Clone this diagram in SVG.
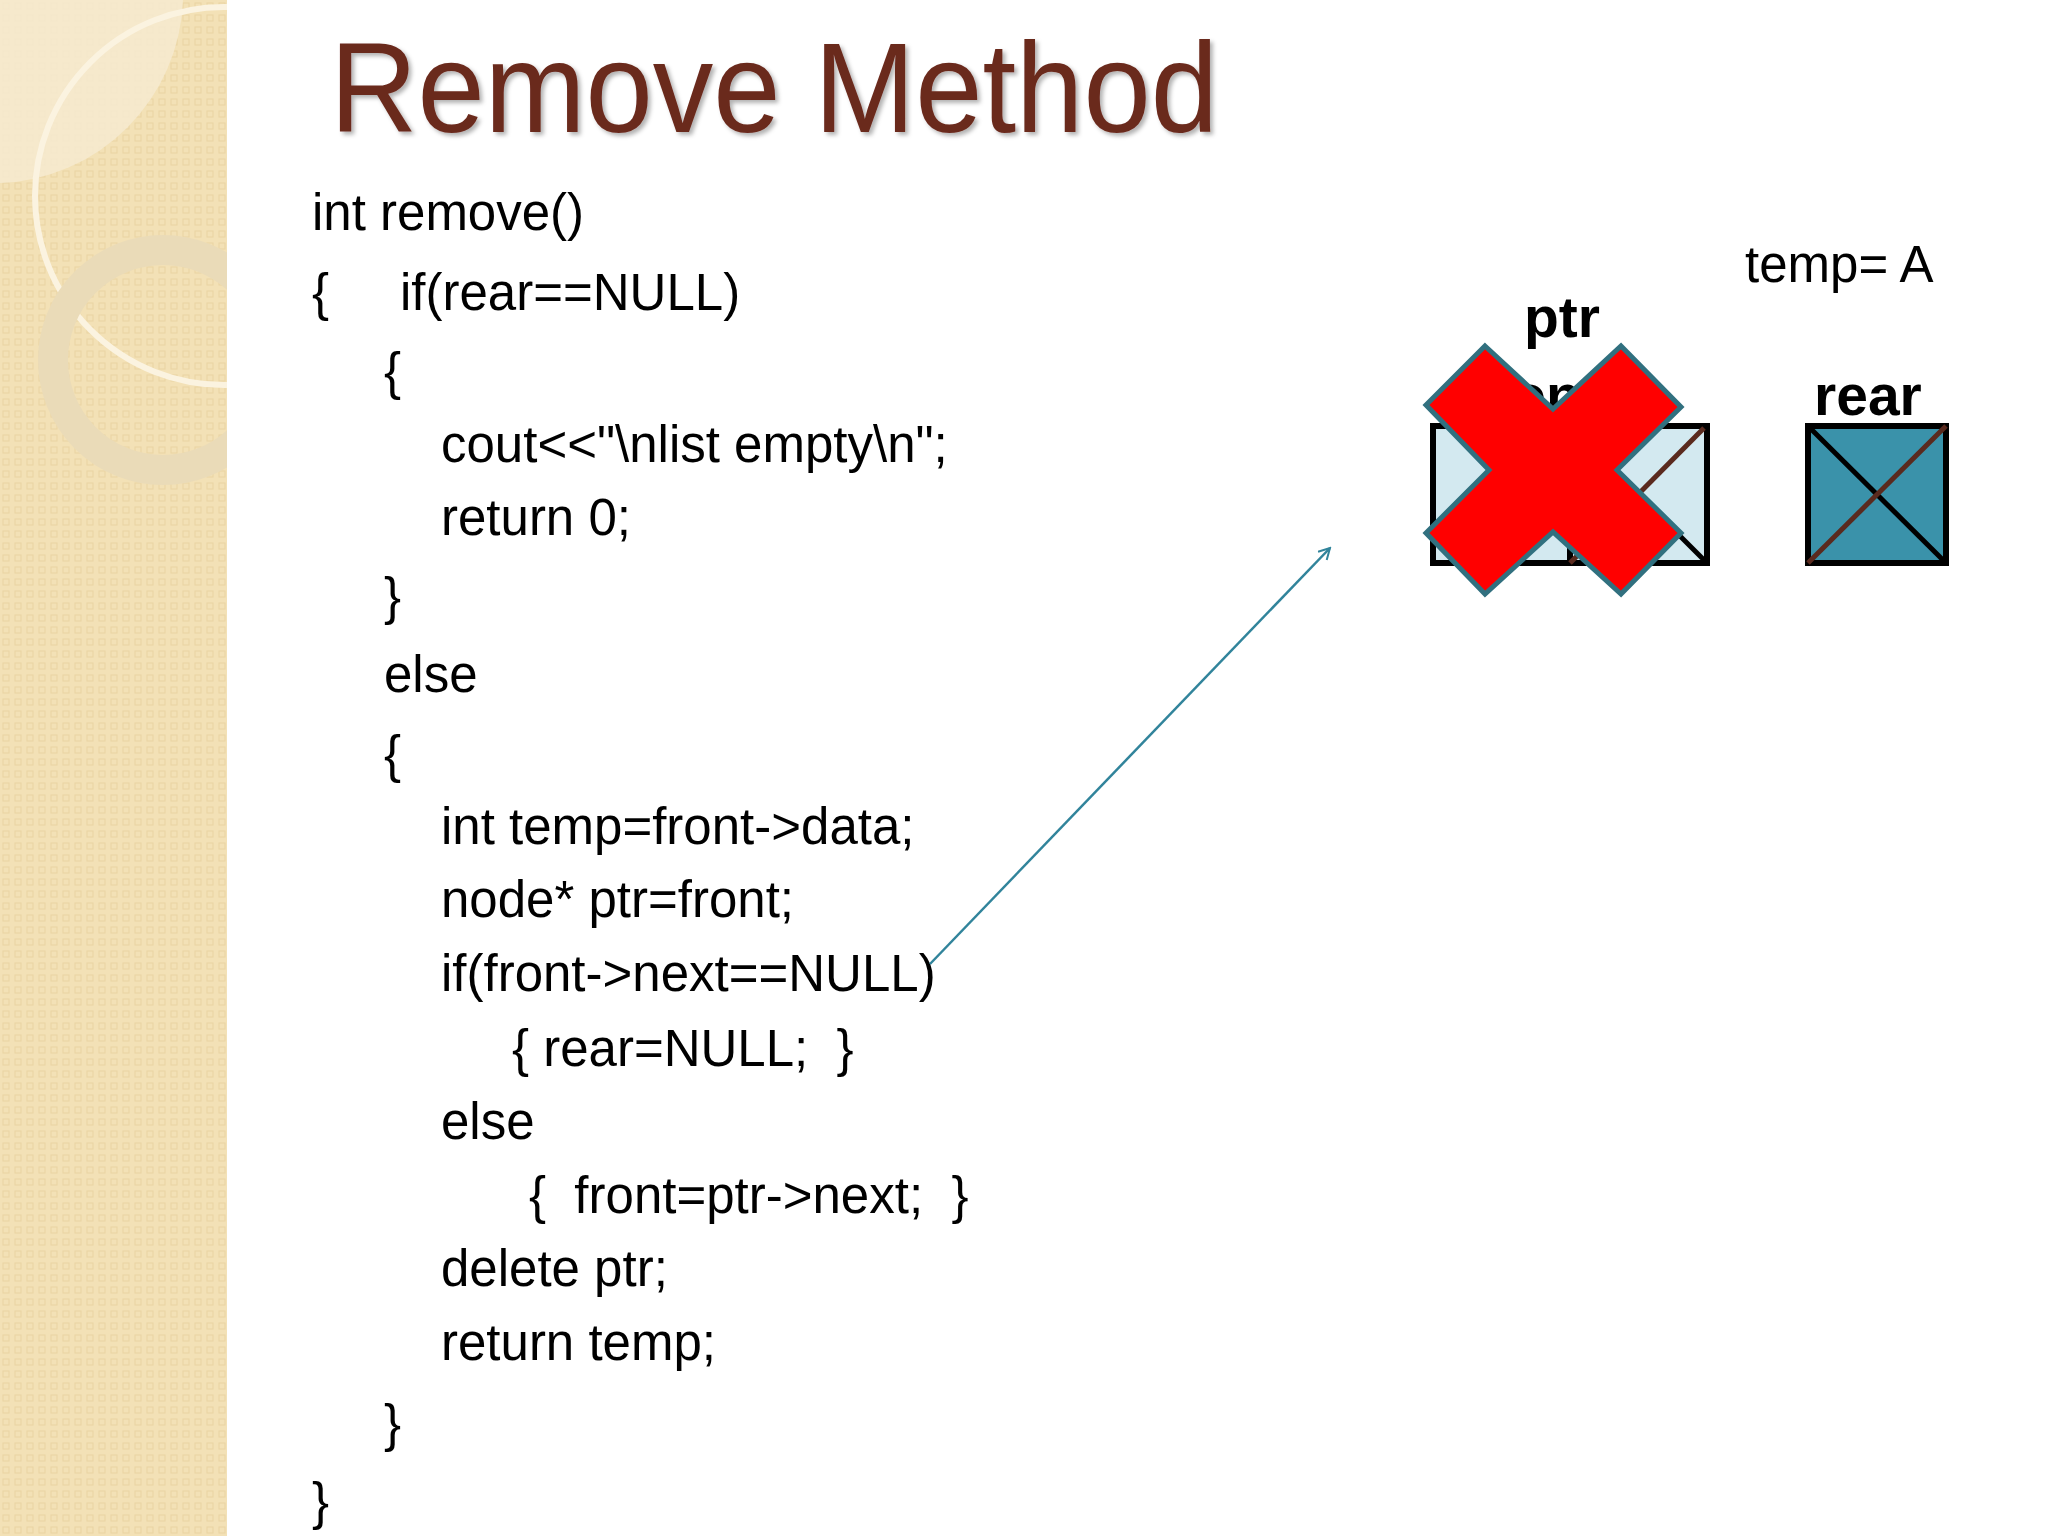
<svg xmlns="http://www.w3.org/2000/svg" width="2048" height="1536" viewBox="0 0 2048 1536">
<defs>
<style>
.code{font-family:"Liberation Sans",Arial,sans-serif;font-size:51px;fill:#000}
.lbl{font-family:"Liberation Sans",Arial,sans-serif;font-size:57px;font-weight:bold;fill:#000}
.ln{stroke-width:5}
</style>
<clipPath id="side"><rect x="0" y="0" width="227" height="1536"/></clipPath>
<pattern id="pat" width="12" height="12" patternUnits="userSpaceOnUse"><rect width="12" height="12" fill="#f3e1b6"/><rect x="3" y="3" width="6" height="6" fill="none" stroke="#ead4a2" stroke-width="1"/></pattern>
<marker id="arr" markerWidth="14" markerHeight="14" refX="12" refY="7" orient="auto" markerUnits="userSpaceOnUse"><path d="M1,1 L12,7 L1,13" fill="none" stroke="#31849b" stroke-width="2"/></marker>
<filter id="sh"><feDropShadow dx="3" dy="3" stdDeviation="2" flood-color="#000" flood-opacity="0.3"/></filter>
</defs>
<rect width="2048" height="1536" fill="#fff"/>
<g id="sidebar" clip-path="url(#side)">
<rect x="0" y="0" width="227" height="1536" fill="url(#pat)"/>
<path d="M0,0 H183 A190,190 0 0 1 0,183 Z" fill="#f6ead0" opacity="0.85"/>
<circle cx="224" cy="196" r="189" fill="none" stroke="#fbf3e0" stroke-width="6"/>
<circle cx="163" cy="360" r="110" fill="none" stroke="#eadbb8" stroke-width="30"/>
</g>
<text id="title" x="330" y="132" font-family="'Liberation Sans',Arial,sans-serif" font-size="128" fill="#6b2a1e" filter="url(#sh)" textLength="888" lengthAdjust="spacingAndGlyphs">Remove Method</text>
<g id="code">
<text class="code" x="312" y="230">int remove()</text>
<text class="code" x="312" y="310">{</text>
<text class="code" x="400" y="310">if(rear==NULL)</text>
<text class="code" x="384" y="389">{</text>
<text class="code" x="441" y="462">cout&lt;&lt;"\nlist empty\n";</text>
<text class="code" x="441" y="535">return 0;</text>
<text class="code" x="384" y="614">}</text>
<text class="code" x="384" y="692">else</text>
<text class="code" x="384" y="772">{</text>
<text class="code" x="441" y="844">int temp=front-&gt;data;</text>
<text class="code" x="441" y="917">node* ptr=front;</text>
<text class="code" x="441" y="991">if(front-&gt;next==NULL)</text>
<text class="code" x="512" y="1066" xml:space="preserve">{ rear=NULL;  }</text>
<text class="code" x="529" y="1213" xml:space="preserve">{  front=ptr-&gt;next;  }</text>
<text class="code" x="441" y="1139">else</text>
<text class="code" x="441" y="1286">delete ptr;</text>
<text class="code" x="441" y="1360">return temp;</text>
<text class="code" x="384" y="1441">}</text>
<text class="code" x="312" y="1519">}</text>
</g>
<text id="temp" x="1745" y="282" class="code">temp= A</text>
<g id="node-front">
<rect x="1433" y="426" width="274" height="137" fill="#d3e9f0" stroke="#000" stroke-width="6"/>
<line x1="1570" y1="426" x2="1570" y2="563" stroke="#000" stroke-width="6"/>
<line x1="1570" y1="426" x2="1707" y2="563" stroke="#000" class="ln"/>
<line x1="1570" y1="563" x2="1704" y2="428" stroke="#5a2a1e" class="ln"/>
<text class="lbl" x="1470" y="415">front</text>
</g>
<g id="node-rear">
<rect x="1808" y="426" width="138" height="137" fill="#3a92aa" stroke="#000" stroke-width="6"/>
<line x1="1808" y1="426" x2="1946" y2="563" stroke="#000" class="ln"/>
<line x1="1808" y1="563" x2="1946" y2="426" stroke="#5a2a1e" class="ln"/>
<text class="lbl" x="1814" y="415">rear</text>
</g>
<g id="cross">
<polygon points="1485,346 1553,409 1621,346 1681,407 1617,470 1681,533 1621,594 1553,532 1485,594 1426,533 1489,470 1426,405" fill="#ff0000" stroke="#31707f" stroke-width="5"/>
</g>
<text id="ptr" class="lbl" x="1524" y="337">ptr</text>
<g id="connectors">
<line x1="930" y1="964" x2="1330" y2="548" stroke="#31849b" stroke-width="2.5" marker-end="url(#arr)"/>
</g>
</svg>
